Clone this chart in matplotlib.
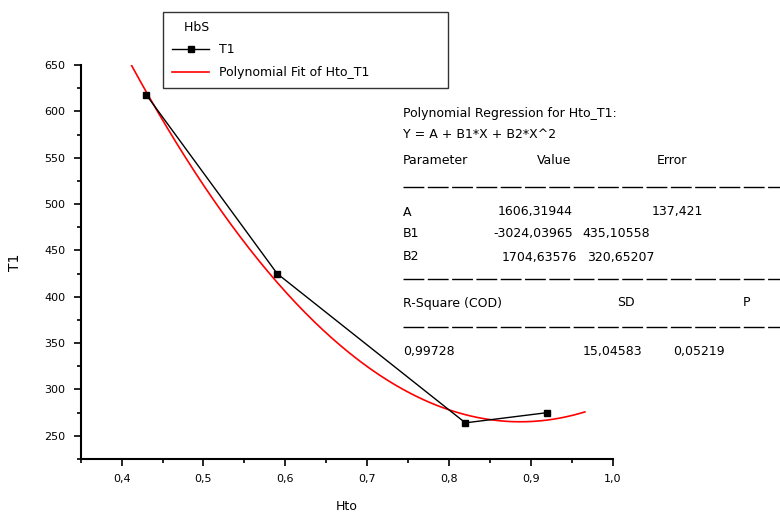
import numpy as np
import matplotlib
matplotlib.use("Agg")
import matplotlib.pyplot as plt
from matplotlib.ticker import MultipleLocator, FuncFormatter
from matplotlib.lines import Line2D

# ---- data ----
hto = [0.43, 0.59, 0.82, 0.92]
t1 = [618, 425, 264, 275]
fit_coefs = [1704.63576, -3024.03965, 1606.31944]   # B2, B1, A (displayed fit)
fit_x_range = [0.412, 0.966]

legend_title = "HbS"
series_label = "T1"
fit_label = "Polynomial Fit of Hto_T1"

x_label = "Hto"
y_label = "T1"

W, H = 780, 514
fig = plt.figure(figsize=(W / 100, H / 100), dpi=100)
plt.rcParams['font.family'] = ['DejaVu Sans']

def fx(x):
    return x / W

def fy(y):
    return 1 - y / H

ax = fig.add_axes([fx(80.7), fy(459), (612.7 - 80.7) / W, (459 - 65) / H])

xf = np.linspace(fit_x_range[0], fit_x_range[1], 200)
yf = np.polyval(fit_coefs, xf)
ax.plot(hto, t1, color='black', lw=1.0, marker='s', markersize=4.5,
        label=series_label, zorder=3)
ax.plot(xf, yf, color='red', lw=1.2, label=fit_label, zorder=2)

ax.set_xlim(0.35, 1.0)
ax.set_ylim(225, 650)
ax.spines['top'].set_visible(False)
ax.spines['right'].set_visible(False)
for s in ['left', 'bottom']:
    ax.spines[s].set_linewidth(1.5)
ax.xaxis.set_major_locator(MultipleLocator(0.1))
ax.xaxis.set_minor_locator(MultipleLocator(0.05))
ax.yaxis.set_major_locator(MultipleLocator(50))
ax.yaxis.set_minor_locator(MultipleLocator(25))
ax.xaxis.set_major_formatter(FuncFormatter(lambda v, p: f"{v:.1f}".replace('.', ',')))
ax.yaxis.set_major_formatter(FuncFormatter(lambda v, p: f"{v:.0f}"))
ax.tick_params(which='major', direction='out', length=5, width=1.2, labelsize=8)
ax.tick_params(which='minor', direction='out', length=3, width=1.2)
ax.tick_params(axis='x', pad=6)
ax.tick_params(axis='y', pad=6)
ax.set_xlabel(x_label, fontsize=9, labelpad=11)
ax.set_ylabel(y_label, fontsize=10, labelpad=16)

leg = fig.legend(loc='upper left',
                 bbox_to_anchor=(fx(163), fy(87), (448 - 163) / W, (87 - 12) / H),
                 mode='expand', title="   " + legend_title, fontsize=9, title_fontsize=9,
                 frameon=True, fancybox=False, edgecolor='black',
                 handlelength=3.0, labelspacing=0.8, borderpad=0.7,
                 borderaxespad=0, alignment='left')
leg.get_frame().set_linewidth(1.0)
leg._legend_box.sep = 7

# ---- regression results text ----
fs = 9
def put(x, y, s):
    fig.text(fx(x), fy(y), s, fontsize=fs, va='center', ha='left')

put(403, 113, "Polynomial Regression for Hto_T1:")
put(403, 134, "Y = A + B1*X + B2*X^2")
put(403, 161, "Parameter")
put(537, 161, "Value")
put(657, 161, "Error")

param_names = ["A", "B1", "B2"]
param_values = ["1606,31944", "-3024,03965", "1704,63576"]
param_errors = ["137,421", "435,10558", "320,65207"]
rows_y = [212, 234, 257]
val_x = [498, 493, 502]
err_x = [652, 582, 587]
for n, v, e, y, vx, ex in zip(param_names, param_values, param_errors, rows_y, val_x, err_x):
    put(403, y, n)
    put(vx, y, v)
    put(ex, y, e)

put(403, 303, "R-Square (COD)")
put(617, 303, "SD")
put(743, 303, "P")
put(403, 352, "0,99728")
put(583, 352, "15,04583")
put(673, 352, "0,05219")

for y in [187, 279, 327]:
    fig.add_artist(Line2D([fx(403), 1.0], [fy(y), fy(y)], transform=fig.transFigure,
                          color='black', lw=1.0, linestyle=(0, (15, 2.5))))

fig.savefig("out.png", dpi=100)
